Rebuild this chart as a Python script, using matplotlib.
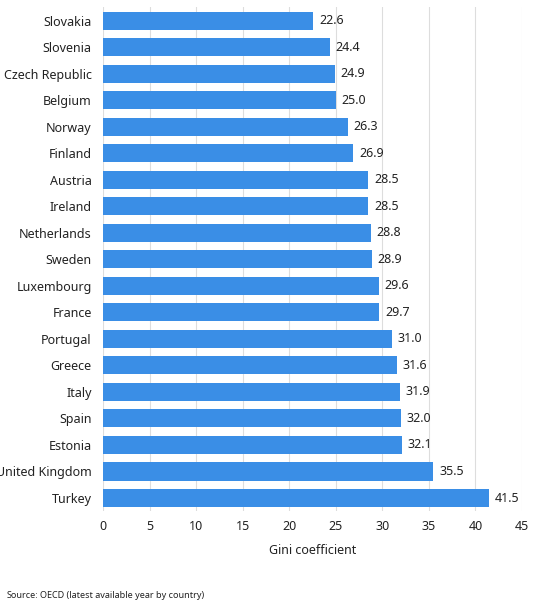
import matplotlib
matplotlib.use("Agg")
import matplotlib.pyplot as plt

countries = ["Slovakia","Slovenia","Czech Republic","Belgium","Norway","Finland","Austria","Ireland",
             "Netherlands","Sweden","Luxembourg","France","Portugal","Greece","Italy","Spain","Estonia",
             "United Kingdom","Turkey"]
values = [22.6,24.4,24.9,25.0,26.3,26.9,28.5,28.5,28.8,28.9,29.6,29.7,31.0,31.6,31.9,32.0,32.1,35.5,41.5]
xticks = [0,5,10,15,20,25,30,35,40,45]

plt.rcParams['font.family'] = ['Noto Sans', 'DejaVu Sans']
fig = plt.figure(figsize=(5.42,6.16), dpi=100)
ax = fig.add_axes([0.190, 0.170, 0.773, 0.818])
y = list(range(len(countries)))
ax.barh(y, values, height=0.68, color="#3a8ee6", zorder=2)
for yi, v in zip(y, values):
    ax.text(v + 0.6, yi, f"{v:.1f}", va="center", ha="left", fontsize=9, color="#222222")
ax.set_yticks(y)
ax.set_yticklabels(countries, fontsize=9, color="#222222")
ax.set_ylim(len(countries)-0.5, -0.5)
ax.set_xlim(0,45)
ax.set_xticks(xticks)
ax.tick_params(axis='x', labelsize=9, colors="#222222", length=0, pad=6)
ax.tick_params(axis='y', length=0, pad=8)
ax.grid(axis='x', color="#dddddd", linewidth=0.8, zorder=0)
for s in ax.spines.values():
    s.set_visible(False)
ax.set_xlabel("Gini coefficient", fontsize=9, color="#222222", labelpad=8)
fig.text(0.012, 0.030, "Source:", fontsize=6.5, fontweight="bold", color="#222222")
fig.text(0.074, 0.030, "OECD (latest available year by country)", fontsize=6.5, color="#222222")
fig.savefig("out.png", dpi=100)
